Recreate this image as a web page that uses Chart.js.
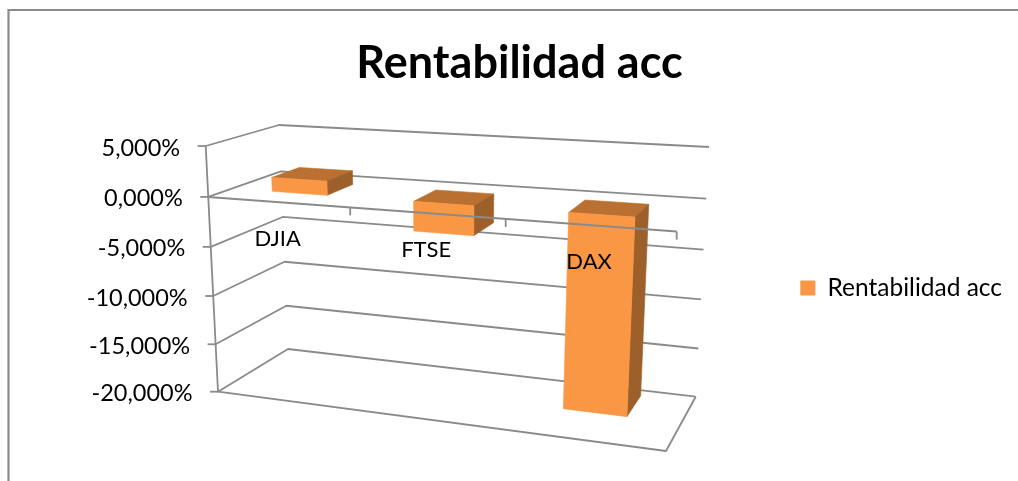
<!DOCTYPE html>
<html>
<head>
<meta charset="utf-8">
<style>
  html, body { margin: 0; padding: 0; background: #fff; }
  #wrap { width: 1018px; height: 481px; }
</style>
<script src="https://cdn.jsdelivr.net/npm/chart.js@4/dist/chart.umd.min.js"></script>
</head>
<body>
<div id="wrap"><canvas id="chart"></canvas></div>
<script>
const categories = ['DJIA', 'FTSE', 'DAX']
const rentabilidad = [1.4, -2.9, -19]
const tickValues = [5, 0, -5, -10, -15, -20]

const FONT = 'Lato, Carlito, Calibri, sans-serif'
const LINE = '#8a8a8a'

// corners of the 3d box as seen in the picture: [top left, top right, bottom right, bottom left]
const frontQuad = [[205.7, 146], [679.5, 174.3], [666, 451], [218, 391.7]]
const backQuad = [[279, 125], [709, 147], [695.7, 396.7], [288, 349]]
const PERSPECTIVE_X = 1.15 // categories get wider towards the right
const PERSPECTIVE_Y = 0.957 // value steps get smaller towards the floor
const DEPTH_FRONT = 0.33
const DEPTH_BACK = 0.73

const formatTick = v => v.toFixed(3).replace('.', ',') + '%'

function bilinear (q, a, b) {
  const xt = q[0][0] + (q[1][0] - q[0][0]) * a
  const yt = q[0][1] + (q[1][1] - q[0][1]) * a
  const xb = q[3][0] + (q[2][0] - q[3][0]) * a
  const yb = q[3][1] + (q[2][1] - q[3][1]) * a
  return [xt + (xb - xt) * b, yt + (yb - yt) * b]
}

// u: 0..1 along categories, depth: 0 front..1 back, t: 0 top..1 bottom of value axis
function project (u, depth, t) {
  const a = u / (PERSPECTIVE_X + (1 - PERSPECTIVE_X) * u)
  const c = t / (PERSPECTIVE_Y + (1 - PERSPECTIVE_Y) * t)
  const f = bilinear(frontQuad, a, c)
  const b = bilinear(backQuad, a, c)
  return [f[0] + (b[0] - f[0]) * depth, f[1] + (b[1] - f[1]) * depth]
}

function poly (ctx, pts, fill) {
  ctx.beginPath()
  pts.forEach((p, i) => (i ? ctx.lineTo(p[0], p[1]) : ctx.moveTo(p[0], p[1])))
  ctx.closePath()
  ctx.fillStyle = fill
  ctx.strokeStyle = fill
  ctx.lineWidth = 0.6
  ctx.fill()
  ctx.stroke()
}

function line (ctx, pts, width) {
  ctx.beginPath()
  pts.forEach((p, i) => (i ? ctx.lineTo(p[0], p[1]) : ctx.moveTo(p[0], p[1])))
  ctx.strokeStyle = LINE
  ctx.lineWidth = width || 1.8
  ctx.stroke()
}

const perspectivePlugin = {
  id: 'perspective',
  beforeDraw (chart) {
    const ctx = chart.ctx
    ctx.save()
    ctx.fillStyle = '#fff'
    ctx.fillRect(0, 0, chart.width, chart.height)
    // chart frame, cut off at right and bottom in the picture
    ctx.beginPath()
    ctx.moveTo(8.5, chart.height)
    ctx.lineTo(8.5, 10)
    ctx.lineTo(chart.width, 10)
    ctx.strokeStyle = LINE
    ctx.lineWidth = 2.2
    ctx.stroke()
    ctx.restore()
  },
  beforeDatasetsDraw (chart) {
    const ctx = chart.ctx
    const area = chart.chartArea
    const yScale = chart.scales.y
    const xScale = chart.scales.x
    const toU = px => (px - area.left) / (area.right - area.left)
    const toT = py => (py - area.top) / (area.bottom - area.top)
    const valueT = v => toT(yScale.getPixelForValue(v))

    ctx.save()
    ctx.lineJoin = 'round'

    // walls and floor
    tickValues.forEach(v => {
      const t = valueT(v)
      line(ctx, [project(0, 0, t), project(0, 1, t), project(1, 1, t)])
      const f = project(0, 0, t)
      line(ctx, [[f[0] - 8, f[1]], f])
    })
    line(ctx, [project(0, 0, valueT(5)), project(0, 0, valueT(-20))])
    line(ctx, [project(0, 0, valueT(-20)), project(1, 0, valueT(-20)), project(1, 1, valueT(-20))])

    // bars, from the library's own elements
    const meta = chart.getDatasetMeta(0)
    const ds = chart.data.datasets[0]
    meta.data.forEach(el => {
      const u0 = toU(el.x - el.width / 2)
      const u1 = toU(el.x + el.width / 2)
      const top = toT(Math.min(el.y, el.base))
      const bottom = toT(Math.max(el.y, el.base))
      poly(ctx, [project(u0, DEPTH_FRONT, top), project(u1, DEPTH_FRONT, top), project(u1, DEPTH_BACK, top), project(u0, DEPTH_BACK, top)], ds.topColor)
      poly(ctx, [project(u1, DEPTH_FRONT, top), project(u1, DEPTH_BACK, top), project(u1, DEPTH_BACK, bottom), project(u1, DEPTH_FRONT, bottom)], ds.sideColor)
      poly(ctx, [project(u0, DEPTH_FRONT, top), project(u1, DEPTH_FRONT, top), project(u1, DEPTH_FRONT, bottom), project(u0, DEPTH_FRONT, bottom)], ds.backgroundColor)
    })

    // category axis on the zero level runs over the bars
    const zero = valueT(0)
    line(ctx, [project(0, 0, zero), project(1, 0, zero)], 2)
    categories.forEach((c, i) => {
      const p = project((i + 1) / categories.length, 0, zero)
      line(ctx, [p, [p[0], p[1] + 8]])
    })

    // tick labels follow the slanted axes
    ctx.fillStyle = '#000'
    ctx.font = '23.5px ' + FONT
    ctx.textBaseline = 'middle'
    ctx.textAlign = 'right'
    tickValues.forEach(v => {
      const p = project(0, 0, valueT(v))
      ctx.fillText(formatTick(v), p[0] - 25.5, p[1] + 2)
    })
    ctx.font = '22px ' + FONT
    ctx.textAlign = 'center'
    categories.forEach((c, i) => {
      const p = project(toU(xScale.getPixelForValue(i)), 0, zero)
      ctx.fillText(c, p[0], p[1] + 37)
    })
    ctx.restore()
    return false
  }
}

new Chart(document.getElementById('chart'), {
  type: 'bar',
  data: {
    labels: categories,
    datasets: [{
      label: 'Rentabilidad acc',
      data: rentabilidad,
      backgroundColor: '#FA9744',
      topColor: '#BA7030',
      sideColor: '#9E602A',
      barPercentage: 0.4,
      categoryPercentage: 1
    }]
  },
  plugins: [perspectivePlugin],
  options: {
    responsive: true,
    maintainAspectRatio: false,
    animation: false,
    layout: { padding: { left: 27, right: 6, top: 36, bottom: 35 } },
    scales: {
      x: { display: false },
      y: { display: false, min: -20, max: 5, ticks: { stepSize: 5 } }
    },
    plugins: {
      tooltip: { enabled: false },
      title: {
        display: true,
        text: 'Rentabilidad acc',
        color: '#000',
        font: { family: FONT, size: 45, weight: 'bold' },
        padding: { top: 0, bottom: 40 }
      },
      legend: {
        position: 'right',
        fullSize: false,
        labels: {
          color: '#000',
          boxWidth: 15,
          boxHeight: 15,
          padding: 8,
          font: { family: FONT, size: 24.5 }
        }
      }
    }
  }
})
</script>
</body>
</html>
